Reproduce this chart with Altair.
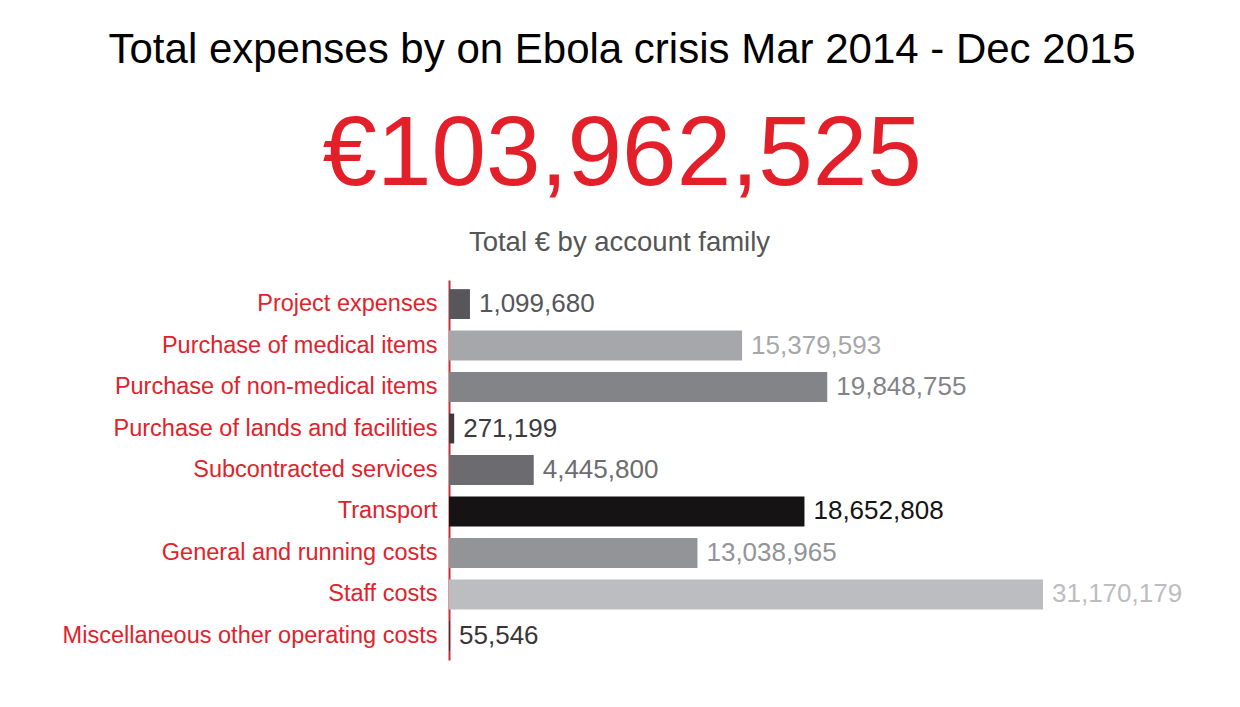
import altair as alt
import pandas as pd

categories = [
    "Project expenses",
    "Purchase of medical items",
    "Purchase of non-medical items",
    "Purchase of lands and facilities",
    "Subcontracted services",
    "Transport",
    "General and running costs",
    "Staff costs",
    "Miscellaneous other operating costs",
]
values = [1099680, 15379593, 19848755, 271199, 4445800, 18652808, 13038965, 31170179, 55546]
bar_colors = ["#56565b", "#a6a7ab", "#838488", "#3b3b3f", "#6c6b70",
              "#151314", "#939498", "#bcbdc1", "#3a3436"]

total = sum(values)
FONT = "Liberation Sans"

df = pd.DataFrame({"category": categories, "value": values})

base = alt.Chart(df).encode(
    y=alt.Y(
        "category:N",
        sort=categories,
        scale=alt.Scale(paddingInner=0.28, paddingOuter=0.22),
        axis=alt.Axis(
            title=None,
            labelColor="#e0222b",
            labelFontSize=23.5,
            labelFont=FONT,
            labelLimit=600,
            ticks=False,
            labelPadding=12,
            domainColor="#c0303a",
            domainWidth=2,
            grid=False,
        ),
    ),
    x=alt.X(
        "value:Q",
        scale=alt.Scale(domain=[0, max(values)], nice=False),
        axis=alt.Axis(
            orient="top",
            labels=False,
            ticks=False,
            domain=False,
            grid=False,
            title="Total € by account family",
            titleFontSize=27.5,
            titleFont=FONT,
            titleColor="#555555",
            titleFontWeight="normal",
            titleX=170,
            titleY=-30,
            titleAlign="center",
            titleBaseline="alphabetic",
        ),
    ),
    color=alt.Color("category:N", scale=alt.Scale(domain=categories, range=bar_colors), legend=None),
)

bars = base.mark_bar()
labels = base.mark_text(align="left", baseline="middle", dx=9, fontSize=26, font=FONT).encode(
    text=alt.Text("value:Q", format=",")
)

chart = (
    alt.layer(bars, labels)
    .properties(
        width=594,
        height=380,
        padding={"left": 62, "top": 29, "right": 10, "bottom": 10},
        title=alt.TitleParams(
            text="Total expenses by on Ebola crisis Mar 2014 - Dec 2015",
            subtitle=f"€{total:,}",
            font=FONT,
            fontSize=42,
            fontWeight="normal",
            color="black",
            subtitleFont=FONT,
            subtitleFontSize=98,
            subtitleColor="#e3202a",
            subtitlePadding=36,
            anchor="middle",
            frame="bounds",
            offset=22,
        ),
    )
    .configure(font=FONT, view=alt.ViewConfig(stroke="transparent", strokeWidth=0))
)

chart.save("out.html", embed_options={"renderer": "svg", "actions": False})
